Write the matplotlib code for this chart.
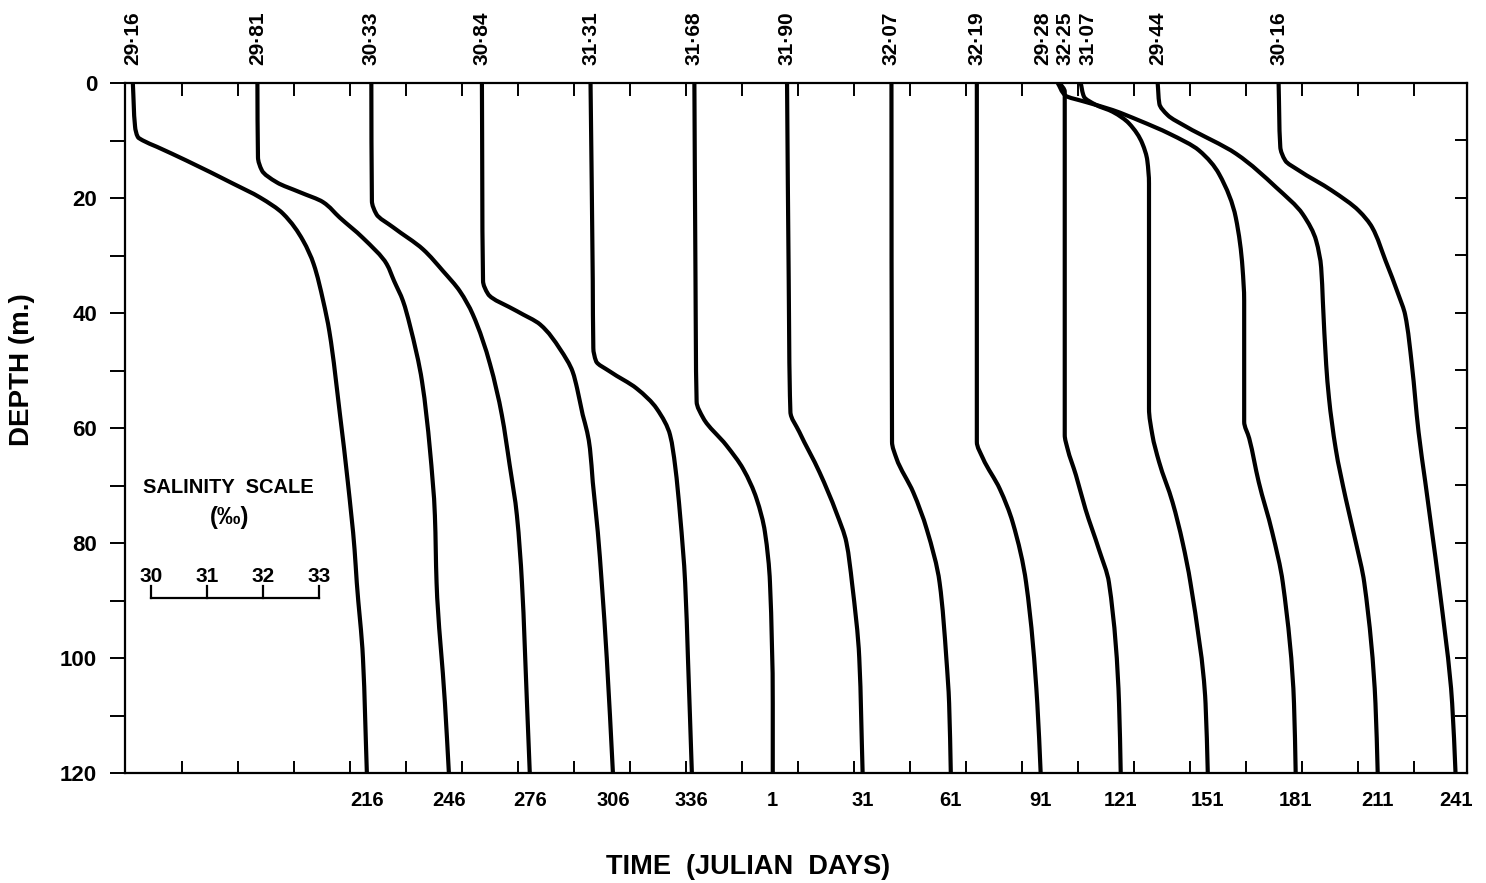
import matplotlib
matplotlib.use("Agg")
import matplotlib.pyplot as plt
import numpy as np
from matplotlib.path import Path
from matplotlib.patches import PathPatch

# salinity profiles, one per sampling station (depth in m, salinity in ppt)
depth_216 = [0, 7.6, 9.4, 10.0, 11.1, 13.5, 17.5, 19.9, 22.7, 27.4, 31.5, 37.9, 43.2, 57.7, 69.4, 81.1, 86.9, 100, 120]
sal_216 = [29.16, 29.20, 29.25, 29.34, 29.59, 30.12, 30.95, 31.43, 31.84, 32.20, 32.39, 32.56, 32.67, 32.86, 33.00, 33.12, 33.16, 33.27, 33.34]

depth_246 = [0, 12.9, 15.2, 17.3, 19.0, 20.7, 23.4, 26.9, 31.5, 34.4, 37.9, 42.0, 51.9, 63.6, 75.2, 86.9, 107.9, 120]
sal_246 = [29.81, 29.82, 29.89, 30.16, 30.57, 30.98, 31.28, 31.69, 32.12, 32.25, 32.41, 32.53, 32.75, 32.89, 32.98, 33.01, 33.16, 33.23]

depth_276 = [0, 20.5, 22.8, 25.1, 28.9, 32.7, 36.2, 40.2, 48.9, 57.7, 66.4, 75.2, 86.9, 107.9, 120]
sal_276 = [30.33, 30.34, 30.42, 30.72, 31.25, 31.61, 31.91, 32.14, 32.45, 32.66, 32.80, 32.93, 33.02, 33.11, 33.16]

depth_306 = [0, 34.4, 36.7, 39.7, 42.0, 46.2, 50.2, 53.1, 57.7, 60.7, 63.6, 69.4, 78.1, 86.9, 100, 120]
sal_306 = [30.84, 30.86, 30.95, 31.47, 31.88, 32.23, 32.46, 32.54, 32.64, 32.72, 32.77, 32.82, 32.91, 32.98, 33.07, 33.18]

depth_336 = [0, 34.4, 46.1, 48.4, 50.2, 53.1, 56.6, 61.2, 66.5, 75.2, 86.9, 100, 120]
sal_336 = [31.31, 31.35, 31.36, 31.41, 31.66, 32.13, 32.49, 32.73, 32.82, 32.91, 33.00, 33.05, 33.12]

depth_1 = [0, 34.4, 55.4, 58.3, 63.0, 67.1, 72.3, 78.1, 86.9, 107.9, 120]
sal_1 = [31.68, 31.70, 31.72, 31.84, 32.25, 32.55, 32.79, 32.94, 33.03, 33.08, 33.08]

depth_31 = [0, 34.4, 57.2, 60.7, 67.7, 74.7, 79.9, 86.9, 100, 120]
sal_31 = [31.90, 31.93, 31.96, 32.12, 32.48, 32.78, 32.96, 33.06, 33.19, 33.25]

depth_61 = [0, 62.4, 65.3, 71.2, 77.6, 86.9, 100, 107.9, 120]
sal_61 = [32.07, 32.08, 32.16, 32.46, 32.70, 32.93, 33.05, 33.10, 33.13]

depth_91 = [0, 62.4, 65.3, 70.6, 76.4, 86.9, 107.9, 120]
sal_91 = [32.19, 32.19, 32.30, 32.60, 32.83, 33.07, 33.27, 33.33]

depth_121 = [0, 1.5, 61.2, 63.6, 68.2, 74.1, 81.1, 86.9, 107.9, 120]
sal_121 = [32.25, 32.34, 32.34, 32.39, 32.54, 32.71, 32.95, 33.13, 33.31, 33.34]

depth_151 = [0, 2.4, 3.8, 5.0, 7.0, 10.5, 13.5, 17.5, 56.6, 61.2, 65.9, 72.9, 79.9, 86.9, 107.9, 120]
sal_151 = [31.07, 31.13, 31.34, 31.64, 31.93, 32.17, 32.26, 32.29, 32.29, 32.35, 32.47, 32.71, 32.89, 33.03, 33.30, 33.34]

depth_181 = [0, 2.2, 3.3, 4.7, 6.5, 8.8, 11.7, 15.8, 23.4, 32.1, 37.9, 58.9, 61.8, 69.4, 78.1, 86.9, 107.9, 120]
sal_181 = [29.28, 29.42, 29.78, 30.26, 30.73, 31.27, 31.80, 32.16, 32.46, 32.58, 32.61, 32.61, 32.70, 32.87, 33.11, 33.30, 33.50, 33.53]

depth_211 = [0, 3.6, 5.6, 7.6, 12.3, 18.1, 22.8, 27.4, 32.1, 37.9, 49.0, 54.8, 63.6, 72.3, 79.9, 86.9, 107.9, 120]
sal_211 = [29.44, 29.47, 29.62, 29.95, 30.84, 31.55, 32.03, 32.27, 32.36, 32.39, 32.45, 32.50, 32.62, 32.80, 32.98, 33.13, 33.33, 33.37]

depth_241 = [0, 11.1, 13.5, 15.2, 18.7, 22.2, 25.1, 30.9, 36.8, 40.3, 49.0, 60.7, 69.4, 78.1, 86.9, 107.9, 120]
sal_241 = [30.16, 30.19, 30.28, 30.52, 31.11, 31.59, 31.83, 32.07, 32.30, 32.42, 32.54, 32.66, 32.78, 32.90, 33.02, 33.26, 33.32]

# julian day labels and the (continuous) time position of each station
day_labels = ["216", "246", "276", "306", "336", "1", "31", "61", "91", "121", "151", "181", "211", "241"]
station_pos = [216.0, 245.3, 274.2, 303.9, 332.1, 361.0, 393.1, 424.6, 456.7, 485.3, 516.4, 547.8, 577.1, 604.9]

scale_values = [30, 31, 32, 33]

DAYS_PER_PPT = 20.0  # 1 ppt of salinity drawn as 20 days on the time axis

profiles = [
    (depth_216, sal_216), (depth_246, sal_246), (depth_276, sal_276), (depth_306, sal_306),
    (depth_336, sal_336), (depth_1, sal_1), (depth_31, sal_31), (depth_61, sal_61),
    (depth_91, sal_91), (depth_121, sal_121), (depth_151, sal_151), (depth_181, sal_181),
    (depth_211, sal_211), (depth_241, sal_241),
]

# small sideways nudges (days) for crowded surface labels
label_nudge = {9: 1.8, 10: 2.5, 11: -5.4}


def smooth_path(x, d):
    """monotone cubic (pchip-style) curve through the read points, as bezier segments"""
    x = np.asarray(x, float)
    d = np.asarray(d, float)
    h = np.diff(d)
    delta = np.diff(x) / h
    m = np.zeros_like(x)
    m[0], m[-1] = delta[0], delta[-1]
    for k in range(1, len(x) - 1):
        if delta[k - 1] * delta[k] <= 0:
            m[k] = 0.0
        else:
            w1 = 2 * h[k] + h[k - 1]
            w2 = h[k] + 2 * h[k - 1]
            m[k] = (w1 + w2) / (w1 / delta[k - 1] + w2 / delta[k])
    verts = [(x[0], d[0])]
    codes = [Path.MOVETO]
    for k in range(len(h)):
        verts += [(x[k] + m[k] * h[k] / 3, d[k] + h[k] / 3),
                  (x[k + 1] - m[k + 1] * h[k] / 3, d[k + 1] - h[k] / 3),
                  (x[k + 1], d[k + 1])]
        codes += [Path.CURVE4] * 3
    return Path(verts, codes)


def main():
    plt.rcParams["font.family"] = ["Liberation Sans", "DejaVu Sans"]
    plt.rcParams["font.weight"] = "bold"

    W, H = 1486, 883
    fig = plt.figure(figsize=(W / 100, H / 100), dpi=100)
    ax = fig.add_axes([125 / W, 1 - 773 / H, 1342 / W, 690 / H])

    for i, (d, s) in enumerate(profiles):
        s = np.array(s)
        x = station_pos[i] + (s - s[-1]) * DAYS_PER_PPT
        ax.add_patch(PathPatch(smooth_path(x, d), facecolor="none", edgecolor="black",
                               lw=3.0, capstyle="butt", joinstyle="round"))
        lab = f"{s[0]:.2f}".replace(".", "\u00b7")
        ax.text(x[0] + label_nudge.get(i, 0.0), 1.026, lab, transform=ax.get_xaxis_transform(),
                rotation=90, ha="center", va="bottom", fontsize=15)

    ax.set_xlim(129.6, 609)
    ax.set_ylim(120, 0)

    # axis frame and ticks
    for sp in ax.spines.values():
        sp.set_linewidth(1.6)
    ax.set_xticks(np.arange(150, 600, 20))
    ax.tick_params(axis="x", which="both", direction="in", top=True, bottom=True,
                   labelbottom=False, length=9, width=1.4)
    ax.set_yticks(np.arange(0, 121, 20))
    ax.set_yticks(np.arange(10, 120, 20), minor=True)
    ax.tick_params(axis="y", which="both", direction="out", length=11, width=1.4,
                   labelsize=16, pad=9)
    right = ax.secondary_yaxis("right")
    right.set_yticks(np.arange(10, 120, 10))
    right.tick_params(direction="in", length=9, width=1.4, labelright=False)

    # julian day labels under each station
    bottom = ax.secondary_xaxis("bottom")
    bottom.set_xticks(station_pos, labels=day_labels)
    bottom.tick_params(length=0, pad=13, labelsize=14.5)
    bottom.spines["bottom"].set_visible(False)

    ax.text(0.464, -0.136, "TIME  (JULIAN  DAYS)", transform=ax.transAxes,
            ha="center", va="center", fontsize=19.5)
    ax.text(-0.0768, 0.584, "DEPTH (m.)", transform=ax.transAxes, rotation=90,
            ha="center", va="center", fontsize=20)

    # salinity scale bar
    x0 = 138.9
    sx = [x0 + (v - scale_values[0]) * DAYS_PER_PPT for v in scale_values]
    ax.plot([sx[0], sx[-1]], [89.5, 89.5], color="black", lw=1.6)
    for xv, v in zip(sx, scale_values):
        ax.plot([xv, xv], [89.5, 87.4], color="black", lw=1.6)
        ax.text(xv, 85.9, str(v), ha="center", va="center", fontsize=15)
    ax.text(166.5, 70.3, "SALINITY  SCALE", ha="center", va="center", fontsize=14.5)
    ax.text(167.0, 75.5, "(\u2030)", ha="center", va="center", fontsize=17)

    fig.savefig("out.png", dpi=100)


if __name__ == "__main__":
    main()
